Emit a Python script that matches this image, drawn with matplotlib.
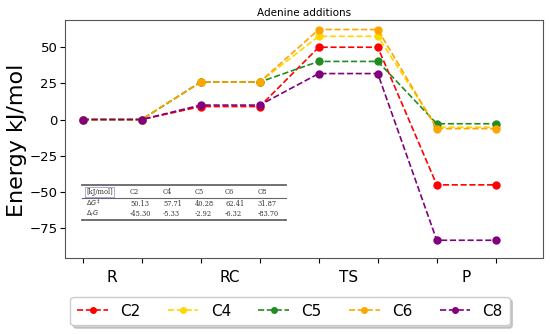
import matplotlib
matplotlib.use("Agg")
from matplotlib import pyplot as plt

# data
stages = ["R", "RC", "TS", "P"]
sites = ["C2", "C4", "C5", "C6", "C8"]
colors = ["red", "gold", "forestgreen", "orange", "purple"]
rc_energy = [9.0, 26.0, 26.0, 26.0, 10.0]
ts_energy = [50.13, 57.71, 40.28, 62.41, 31.87]
p_energy = [-45.30, -5.33, -2.92, -6.32, -83.70]

fig = plt.figure(figsize=(5.5, 3.34), dpi=100)
ax = fig.add_axes([65 / 550, 1 - 258 / 334, 478 / 550, 238 / 334])

x = list(range(8))
for i, s in enumerate(sites):
    y = [0, 0, rc_energy[i], rc_energy[i], ts_energy[i], ts_energy[i], p_energy[i], p_energy[i]]
    ax.plot(x, y, "--o", color=colors[i], lw=1.2, ms=5, label=s)

ax.set_xlim(-0.3, 7.8)
ax.set_ylim(-96, 69)
ax.set_xticks(x)
ax.set_xticklabels([])
ax.set_xticks([0.5, 2.5, 4.5, 6.5], minor=True)
ax.set_xticklabels(stages, minor=True, fontsize=11)
ax.tick_params(axis="x", which="minor", length=0, pad=9)
ax.set_yticks([-75, -50, -25, 0, 25, 50])
ax.tick_params(axis="y", labelsize=9.5, pad=2)
for sp in ax.spines.values():
    sp.set_color("#555555")
ax.set_title("Adenine additions", fontsize=7.5, pad=3)
fig.text(17 / 550, 1 - 140 / 334, "Energy kJ/mol", rotation=90, fontsize=16,
         ha="center", va="center")

# little table inside the axes
def ax_xy(px, py):
    return (px - 65) / 478, (258 - py) / 238

col_x = [86, 130, 163, 195, 225, 258]
tfs = 4.8
header = ["[kJ/mol]"] + sites
row1 = [r"$\Delta G^{\ddagger}$"] + ["%.2f" % v for v in ts_energy]
row2 = [r"$\Delta_r G$"] + ["%.2f" % v for v in p_energy]
for row, py in zip([header, row1, row2], [192, 203.5, 213.5]):
    for txt, px in zip(row, col_x):
        xx, yy = ax_xy(px, py)
        ax.text(xx, yy, txt, transform=ax.transAxes, fontsize=tfs, family="DejaVu Serif",
                ha="left", va="center", color="#333333")
bx0, by0 = ax_xy(85, 197)
bx1, by1 = ax_xy(114, 187)
ax.plot([bx0, bx1, bx1, bx0, bx0], [by0, by0, by1, by1, by0], transform=ax.transAxes,
        color="#9a7fd0", lw=0.5)
for py, lw in [(185, 1.3), (198, 0.8), (220, 1.3)]:
    xa, ya = ax_xy(82, py)
    xb, _ = ax_xy(286, py)
    ax.plot([xa, xb], [ya, ya], transform=ax.transAxes, color="#666666", lw=lw)

fig.legend(loc="center", bbox_to_anchor=(290 / 550, 1 - 311 / 334), ncol=5,
           fontsize=11, shadow={"alpha": 0.25}, columnspacing=1.8, handlelength=2.0,
           markerscale=0.8, borderpad=0.45, framealpha=1)

fig.savefig("out.png", dpi=100)
